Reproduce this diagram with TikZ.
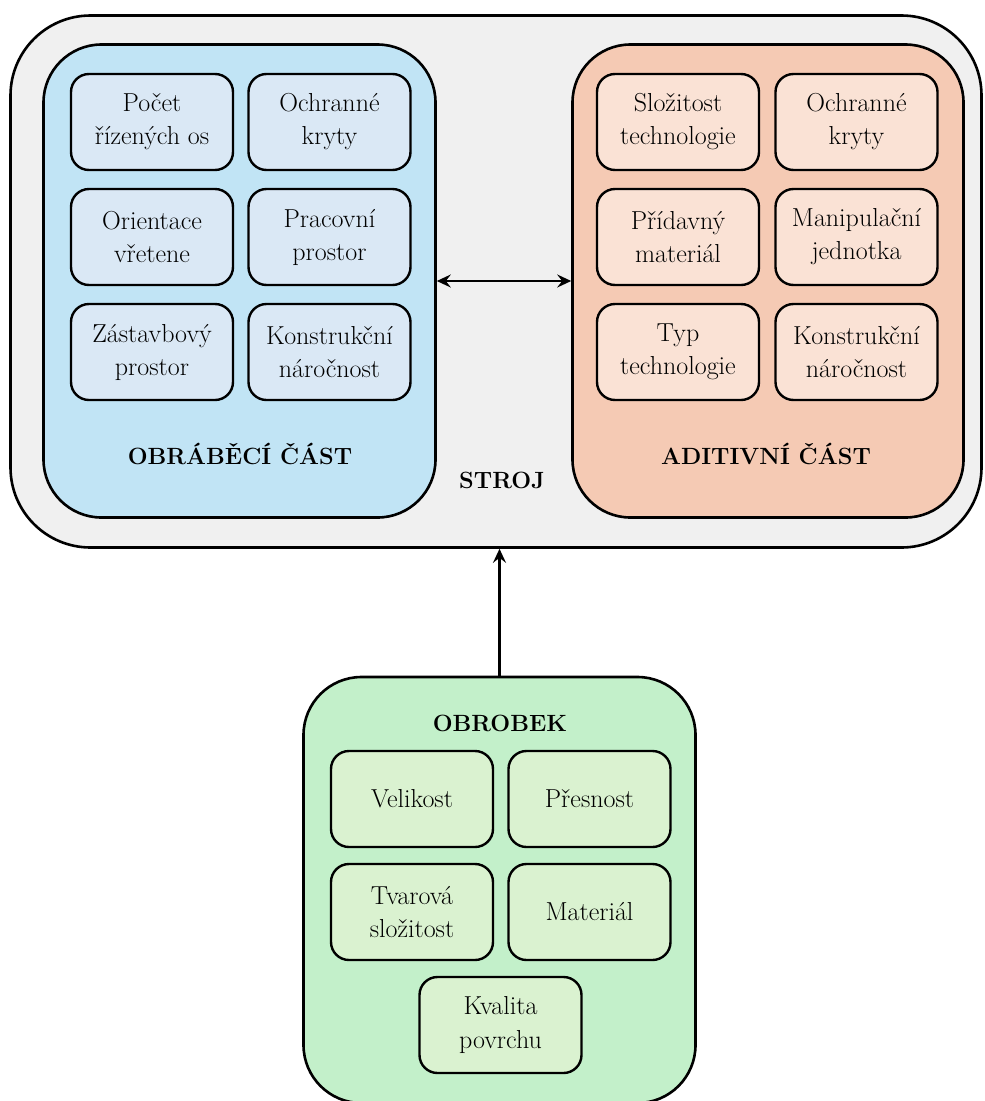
\documentclass[tikz,border=0pt]{standalone}
\usepackage{fontspec}
\usetikzlibrary{positioning,arrows.meta}
\definecolor{stroj}{HTML}{F0F0F0}
\definecolor{obr}{HTML}{C1E4F5}
\definecolor{obrin}{HTML}{DAE8F5}
\definecolor{adi}{HTML}{F5CAB4}
\definecolor{adiin}{HTML}{FAE2D5}
\definecolor{kus}{HTML}{C3F0CA}
\definecolor{kusin}{HTML}{DAF2D0}
\tikzset{
	%big groups, rounded
	grp/.style = {draw=black, line width=2.6pt, rounded corners=58pt},
	%small boxes inside the groups
	box/.style = {draw=black, line width=2.4pt, rounded corners=18pt,
                  minimum width=162pt, minimum height=96pt,
                  align=center, text centered,
                  font=\rmfamily\fontsize{26pt}{33pt}\selectfont},
	title/.style = {anchor=base, font=\rmfamily\fontsize{23.5pt}{30pt}\selectfont\bfseries},
	arr/.style = {line width=2.6pt, -{Stealth[length=14pt,width=13pt,inset=5pt]}},
	darr/.style = {line width=2.6pt, {Stealth[length=14pt,width=13pt,inset=5pt]}-{Stealth[length=14pt,width=13pt,inset=5pt]}}
}

\begin{document}
\begin{tikzpicture}[x=1pt,y=-1pt]
	\useasboundingbox (0,0) rectangle (985,1101);
	%groups
	\node[grp, rounded corners=80pt, fill=stroj, minimum width=971pt, minimum height=532pt] (stroj) at (496, 281.5) {};
	\node[grp, fill=obr, minimum width=392pt, minimum height=473pt] (obr) at (239.5, 281) {};
	\node[grp, fill=adi, minimum width=391pt, minimum height=473pt] (adi) at (768, 281) {};
	\node[grp, fill=kus, minimum width=392pt, minimum height=426pt] (kus) at (499.5, 890) {};
	%titles
	\node[title] (tobr) at (240, 464) {OBRÁBĚCÍ ČÁST};
	\node[title] (tadi) at (766, 464) {ADITIVNÍ ČÁST};
	\node[title] (tstroj) at (502, 488) {STROJ};
	\node[title] (tkus) at (500, 731) {OBROBEK};
	%obrabeci cast
	\node[box, fill=obrin] (o1) at (152, 122) {Počet\\řízených os};
	\node[box, fill=obrin] (o2) at (329.5, 122) {Ochranné\\kryty};
	\node[box, fill=obrin] (o3) at (152, 237) {Orientace\\vřetene};
	\node[box, fill=obrin] (o4) at (329.5, 237) {Pracovní\\prostor};
	\node[box, fill=obrin] (o5) at (152, 352) {Zástavbový\\prostor};
	\node[box, fill=obrin] (o6) at (329.5, 352) {Konstrukční\\náročnost};
	%aditivni cast
	\node[box, fill=adiin] (a1) at (678, 122) {Složitost\\technologie};
	\node[box, fill=adiin] (a2) at (856.5, 122) {Ochranné\\kryty};
	\node[box, fill=adiin] (a3) at (678, 237) {Přídavný\\materiál};
	\node[box, fill=adiin] (a4) at (856.5, 237) {Manipulační\\jednotka};
	\node[box, fill=adiin] (a5) at (678, 352) {Typ\\technologie};
	\node[box, fill=adiin] (a6) at (856.5, 352) {Konstrukční\\náročnost};
	%obrobek
	\node[box, fill=kusin] (k1) at (412, 799) {Velikost};
	\node[box, fill=kusin] (k2) at (589.5, 799) {Přesnost};
	\node[box, fill=kusin] (k3) at (412, 912) {Tvarová\\složitost};
	\node[box, fill=kusin] (k4) at (589.5, 912) {Materiál};
	\node[box, fill=kusin] (k5) at (500.5, 1025) {Kvalita\\povrchu};
	%arrows
	\draw[darr] (obr) -- (adi);
	\draw[arr] (kus.north) -- (kus.north |- stroj.south);
\end{tikzpicture}
\end{document}
